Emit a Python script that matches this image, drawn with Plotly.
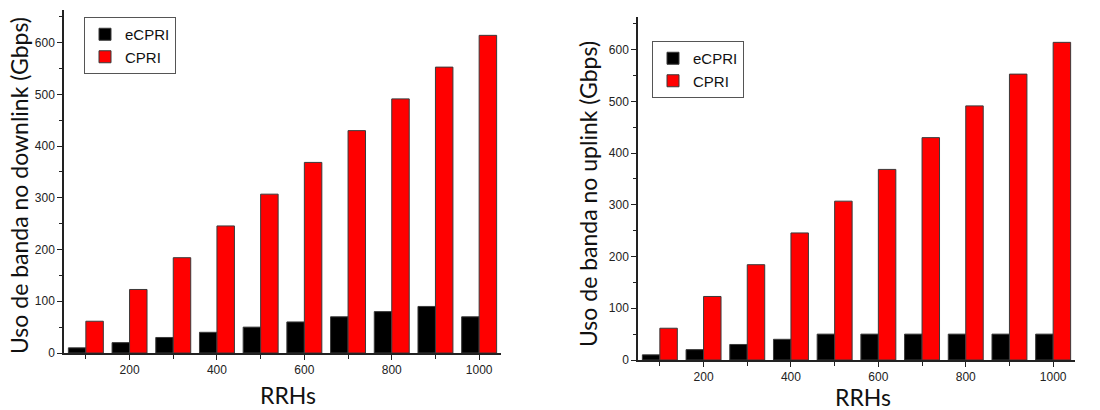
import plotly.graph_objects as go

rrhs = [100, 200, 300, 400, 500, 600, 700, 800, 900, 1000]
dl_ecpri = [10, 20, 30, 40, 50, 60, 70, 80, 90, 70]
dl_cpri = [61.4, 122.8, 184.2, 245.6, 307, 368.4, 429.8, 491.2, 552.6, 614]
ul_ecpri = [10, 20, 30, 40, 50, 50, 50, 50, 50, 50]
ul_cpri = [61.4, 122.8, 184.2, 245.6, 307, 368.4, 429.8, 491.2, 552.6, 614]
x_ticks = [200, 400, 600, 800, 1000]
y_ticks = [0, 100, 200, 300, 400, 500, 600]

line = dict(color="#3a3a3a", width=1)
fig = go.Figure()
fig.add_trace(go.Bar(x=rrhs, y=dl_ecpri, name="eCPRI", marker=dict(color="#000000", line=line),
                     xaxis="x", yaxis="y", legend="legend", offsetgroup="a"))
fig.add_trace(go.Bar(x=rrhs, y=dl_cpri, name="CPRI", marker=dict(color="#ff0000", line=line),
                     xaxis="x", yaxis="y", legend="legend", offsetgroup="b"))
fig.add_trace(go.Bar(x=rrhs, y=ul_ecpri, name="eCPRI", marker=dict(color="#000000", line=line),
                     xaxis="x2", yaxis="y2", legend="legend2", offsetgroup="a"))
fig.add_trace(go.Bar(x=rrhs, y=ul_cpri, name="CPRI", marker=dict(color="#ff0000", line=line),
                     xaxis="x2", yaxis="y2", legend="legend2", offsetgroup="b"))

tickfont = dict(family="Liberation Sans, Arial", size=12, color="#222")
def xax(domain, anchor):
    return dict(domain=domain, anchor=anchor, range=[50, 1050], tickvals=x_ticks,
                ticks="outside", ticklen=5, tickwidth=1.2, tickcolor="#222",
                showline=True, linecolor="#222", linewidth=1.5, showgrid=False,
                zeroline=False, tickfont=tickfont, automargin=False,
                minor=dict(tickvals=[100, 300, 500, 700, 900], ticks="outside", ticklen=4,
                           tickcolor="#222", tickwidth=1.2, showgrid=False))
def yax(domain, anchor):
    return dict(domain=domain, anchor=anchor, range=[0, 663], tickvals=y_ticks,
                ticks="outside", ticklen=5, tickwidth=1.2, tickcolor="#222",
                showline=True, linecolor="#222", linewidth=1.5, showgrid=False,
                zeroline=False, tickfont=tickfont, automargin=False,
                minor=dict(dtick=50, ticks="outside", ticklen=3, tickcolor="#222",
                           tickwidth=1.2, showgrid=False))

W, H = 1100, 410
legfont = dict(family="Liberation Sans, Arial", size=15, color="#111")
titlefont = dict(family="Lato, Open Sans", size=23, color="#111")
fig.update_layout(
    width=W, height=H, margin=dict(l=0, r=0, t=0, b=0),
    paper_bgcolor="white", plot_bgcolor="white",
    barmode="group", bargap=0.2, bargroupgap=0,
    xaxis=xax([64 / W, 501 / W], "y"),
    yaxis=yax([1 - 353 / H, 1 - 10 / H], "x"),
    xaxis2=xax([638 / W, 1075 / W], "y2"),
    yaxis2=yax([1 - 360 / H, 1 - 17 / H], "x2"),
    legend=dict(x=84 / W, y=1 - 17 / H, xanchor="left", yanchor="top", bgcolor="white",
                bordercolor="#555", borderwidth=1, font=legfont, tracegroupgap=0,
                entrywidth=56, entrywidthmode="pixels"),
    legend2=dict(x=652 / W, y=1 - 41 / H, xanchor="left", yanchor="top", bgcolor="white",
                 bordercolor="#555", borderwidth=1, font=legfont, tracegroupgap=0,
                 entrywidth=56, entrywidthmode="pixels"),
    annotations=[
        dict(text="Uso de banda no downlink (Gbps)", x=19 / W, y=1 - 186 / H, xref="paper", yref="paper",
             textangle=-90, showarrow=False, xanchor="center", yanchor="middle", font=titlefont),
        dict(text="RRHs", x=288 / W, y=1 - 395 / H, xref="paper", yref="paper",
             showarrow=False, xanchor="center", yanchor="middle", font=titlefont),
        dict(text="Uso de banda no uplink (Gbps)", x=588 / W, y=1 - 194 / H, xref="paper", yref="paper",
             textangle=-90, showarrow=False, xanchor="center", yanchor="middle", font=titlefont),
        dict(text="RRHs", x=863 / W, y=1 - 397 / H, xref="paper", yref="paper",
             showarrow=False, xanchor="center", yanchor="middle", font=titlefont),
    ],
)
fig.write_html("out.html", config={"displayModeBar": False},
               post_script="document.body.style.margin='0px';document.body.style.overflow='hidden';")
